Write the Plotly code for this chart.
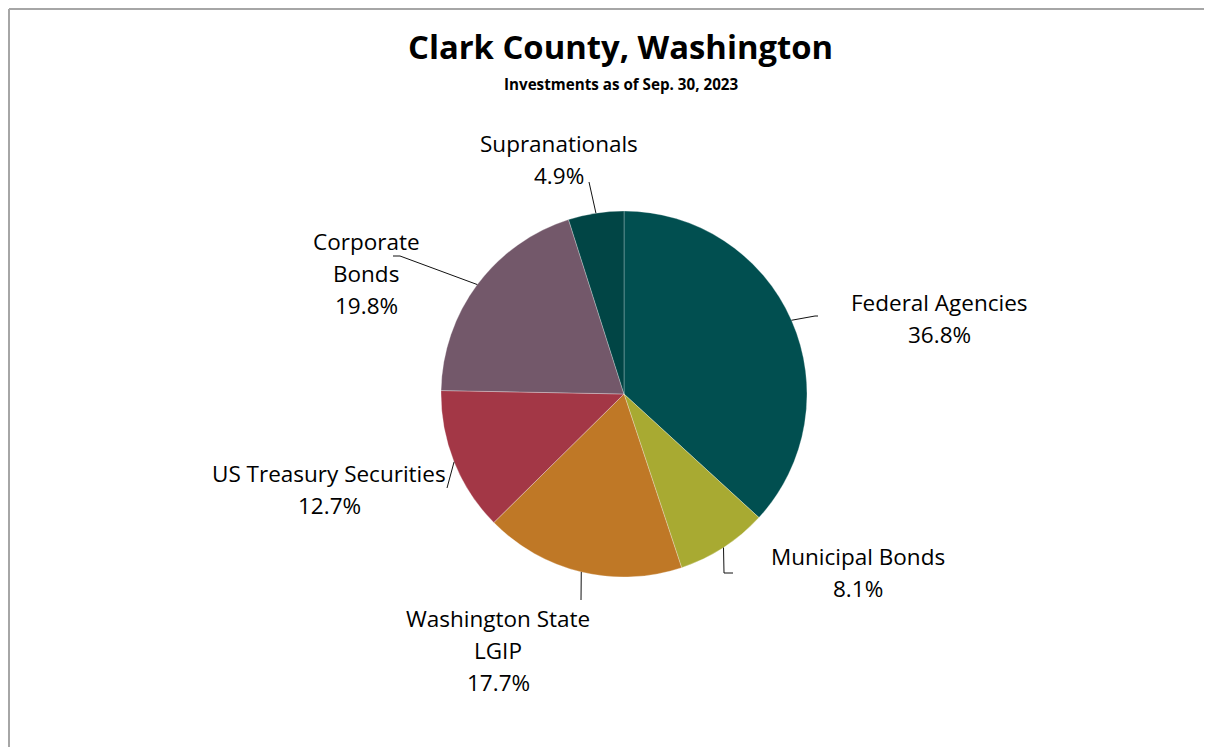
import math
import plotly.graph_objects as go

# ---- data ----
categories = ["Federal Agencies", "Municipal Bonds", "Washington State LGIP",
              "US Treasury Securities", "Corporate Bonds", "Supranationals"]
percents = [36.8, 8.1, 17.7, 12.7, 19.8, 4.9]
label_lines = [["Federal Agencies"], ["Municipal Bonds"], ["Washington State", "LGIP"],
               ["US Treasury Securities"], ["Corporate", "Bonds"], ["Supranationals"]]
title_text = "Clark County, Washington"
subtitle_text = "Investments as of Sep. 30, 2023"

# ---- styles / layout ----
colors = ["#014F50", "#A8AA32", "#BF7826", "#A33746", "#73586A", "#014545"]
OFF = 8                       # page body margin
W, H = 1212 - OFF, 747 - OFF  # figure size
CX, CY, R = 624, 394, 183     # pie centre and radius in page pixels
FONT = "Open Sans"
# label text anchor (page-pixel centre of first line) and leader end-points
label_pos = {
    "Federal Agencies": (939, 302),
    "Municipal Bonds": (858, 556),
    "Washington State LGIP": (498, 618),
    "US Treasury Securities": (329, 473),
    "Corporate Bonds": (366, 242),
    "Supranationals": (559, 143),
}
leader_ends = {
    "Federal Agencies": [(815, 316), (818, 316)],
    "Municipal Bonds": [(724, 573), (733, 573)],
    "Washington State LGIP": [(581, 600)],
    "US Treasury Securities": [(447, 488)],
    "Corporate Bonds": [(400, 256), (393, 256)],
    "Supranationals": [(589, 182)],
}
LINE_GAP = 32

def px(x):
    return (x - OFF) / W

def py(y):
    return 1 - (y - OFF) / H

fig = go.Figure(go.Pie(
    labels=categories, values=percents, sort=False, direction="clockwise",
    rotation=0, marker=dict(colors=colors, line=dict(color="rgba(255,255,255,0.35)", width=0.8)),
    textinfo="none", hoverinfo="label+percent", showlegend=False,
    domain=dict(x=[px(CX - R), px(CX + R)], y=[py(CY + R), py(CY - R)]),
))

annotations = []
shapes = []
total = sum(percents)
cum = 0.0
for cat, val, lines in zip(categories, percents, label_lines):
    mid = (cum + val / 2) / total * 2 * math.pi
    cum += val
    ex, ey = CX + R * math.sin(mid), CY - R * math.cos(mid)
    pts = [(ex, ey)] + leader_ends[cat]
    for (x0, y0), (x1, y1) in zip(pts[:-1], pts[1:]):
        shapes.append(dict(type="line", xref="paper", yref="paper",
                           x0=px(x0), y0=py(y0), x1=px(x1), y1=py(y1),
                           line=dict(color="#111111", width=1)))
    lx, ly = label_pos[cat]
    text_lines = lines + [f"{val:.1f}%"]
    for i, t in enumerate(text_lines):
        annotations.append(dict(text=t, x=px(lx), y=py(ly + i * LINE_GAP), xref="paper", yref="paper",
                                xanchor="center", yanchor="middle", showarrow=False,
                                font=dict(family=FONT, size=22.5, color="#000000")))

annotations.append(dict(text=f"<b>{title_text}</b>", x=px(620), y=py(47), xref="paper", yref="paper",
                        xanchor="center", yanchor="middle", showarrow=False,
                        font=dict(family=FONT, size=32.8, color="#000000")))
annotations.append(dict(text=f"<b>{subtitle_text}</b>", x=px(621), y=py(84), xref="paper", yref="paper",
                        xanchor="center", yanchor="middle", showarrow=False,
                        font=dict(family=FONT, size=15.2, color="#000000")))

# chart frame (top and left edges visible)
shapes.append(dict(type="line", xref="paper", yref="paper", x0=px(9), y0=py(9), x1=1, y1=py(9),
                   line=dict(color="#A6A6A6", width=2)))
shapes.append(dict(type="line", xref="paper", yref="paper", x0=px(9), y0=py(9), x1=px(9), y1=0,
                   line=dict(color="#A6A6A6", width=2)))

fig.update_layout(width=W, height=H, margin=dict(l=0, r=0, t=0, b=0),
                  paper_bgcolor="white", plot_bgcolor="white",
                  annotations=annotations, shapes=shapes)
fig.write_html("out.html")
